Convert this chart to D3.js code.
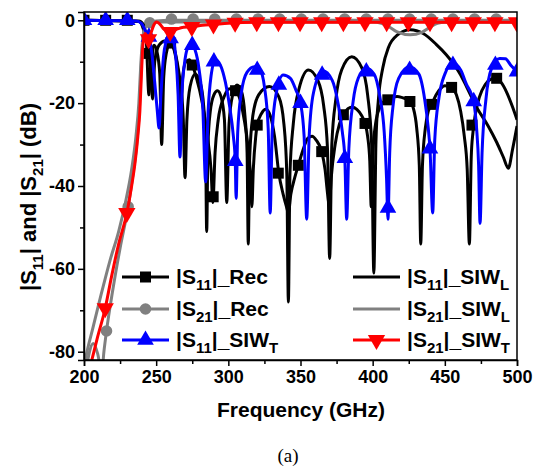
<!DOCTYPE html>
<html>
<head>
<meta charset="utf-8">
<script src="https://cdn.jsdelivr.net/npm/d3@7/dist/d3.min.js"></script>
<style>
  body { margin: 0; background: #fff; }
  svg { font-family: "Liberation Sans", Arial, sans-serif; }
  .axis text { font-size: 18px; font-weight: bold; fill: #000; font-family: "Liberation Sans", Arial, sans-serif; }
  .axis path, .axis line { stroke: #000; stroke-width: 1.5px; }
  .axis-title { font-weight: bold; fill: #000; }
  .legend text { font-size: 21px; font-weight: bold; fill: #000; }
</style>
</head>
<body>
<svg id="chart"></svg>
<script>
// axis ticks
const freqTicks = [200, 250, 300, 350, 400, 450, 500];
const freqMinor = [225, 275, 325, 375, 425, 475];
const dbTicks = [-80, -60, -40, -20, 0];
const dbMinor = [-70, -50, -30, -10];

// |S11|_Rec  (black, squares)
const s11Rec = [[200,0],[238,-0.3],[241,-2],[243,-5],[245,-8],[246.5,-13],[247.5,-19],[249,-10],[252,-6],[256,-5],[260,-5.5],[263,-8],[265.5,-14],[267,-25],[268.3,-14],[270.5,-10],[273,-9.5],[275,-10.8],[278,-14],[282,-20],[285.5,-28],[288,-36],[289.3,-44],[290.8,-32],[293,-24],[297,-18.5],[301,-16.5],[305,-17],[308,-19],[311,-24],[313.5,-30],[315.3,-37],[316.3,-45],[317.3,-36],[319,-28],[320,-25.3],[323,-22.5],[326,-21.5],[329,-23],[332,-28],[335,-37],[338,-42],[340.3,-45],[341.6,-46.5],[343.3,-42],[346,-38],[348.5,-35],[352,-31],[355,-28.5],[358,-28],[361,-29],[364.7,-31.7],[367,-36],[368.8,-42],[370,-45],[371.3,-38],[374,-30],[377,-25],[380,-22.8],[383,-21.3],[386,-21],[389,-21.5],[392,-22.8],[394.7,-24.9],[396.5,-28],[398,-34],[399,-45],[400.2,-32],[402,-25],[405,-21],[408,-19.6],[411,-19],[414,-18.5],[417,-18.4],[420,-18.6],[423,-19],[425.8,-19.6],[428,-21],[430.5,-26],[432.3,-35],[433.3,-54],[434.5,-35],[436.5,-26],[438.5,-22],[440.9,-20.3],[444,-18],[447,-16.5],[450,-15.8],[453,-15.9],[455,-16.2],[458,-18],[461,-22],[463.5,-28],[465.5,-36],[467,-54],[468.3,-33],[469.5,-27],[471,-23],[474,-18.5],[478,-15.5],[482,-14.2],[485,-14],[489,-15],[493,-17.5],[497,-21],[500,-24]];
const s11RecMarks = [[200,0],[215,0],[230,0],[245,-8],[260,-5.5],[275,-10.8],[289.5,-42.6],[305,-17],[320,-25.3],[334.6,-36.9],[348.5,-35],[364.7,-31.7],[379.7,-22.8],[394.7,-24.9],[410.5,-19.2],[425.8,-19.6],[440.9,-20.3],[454.7,-16.2],[468.8,-25.3],[485.9,-14]];

// |S21|_Rec  (grey, circles)
const s21Rec = [[201,-86],[203.5,-80.5],[206.4,-78],[209.5,-80.5],[212.3,-85],[213.8,-80],[215.6,-75],[220,-65],[225,-55],[230.6,-45],[234,-37],[236.8,-29],[238.6,-20],[239.8,-10],[241,-4],[242.5,-1.5],[245.6,-0.6],[250,-0.2],[260,0],[500,0]];
const s21RecMarks = [[215.6,-75],[230.6,-45],[245.6,-0.6],[260.6,0.3],[275.6,0.3],[290.6,0.3],[305.6,0.3],[320.6,0.3],[335.6,0.3],[350.6,0.3],[365.6,0.3],[380.6,0.3],[395.6,0.3],[410.6,0.3],[425.6,0.3],[440.6,0.3],[455.6,0.3],[470.6,0.3],[485.6,0.3]];

// |S11|_SIW_T  (blue, up triangles)
const s11SiwT = [[200,0],[236,-0.2],[240,-0.8],[242.5,-2.5],[245,-4],[247,-8],[249,-15],[250.8,-22],[252,-26],[253.3,-18],[255,-9],[257,-5],[259.3,-3.5],[261.5,-4.4],[263.5,-8.5],[265.2,-18],[266.5,-33],[267.8,-18],[269.6,-10.5],[271.6,-6.8],[274,-5.6],[276.8,-7],[279.8,-12],[282.3,-21],[284.3,-39],[286,-22],[288,-13.5],[291,-9.5],[294.5,-10.8],[298,-15],[301,-21],[303.5,-28],[304.8,-34],[305.4,-43],[306.5,-27],[309,-17.5],[313,-12.5],[318,-11.2],[322,-12],[325,-16],[327.6,-26],[329,-46.5],[330.4,-27],[333,-18],[338,-13.2],[343,-14],[347,-17],[350,-20],[352.5,-28],[354.3,-48],[356,-28],[359,-17.5],[365.5,-12.2],[372,-14.5],[376,-20],[379,-27],[380.7,-33.3],[382,-48],[383.5,-31],[386.5,-19.5],[390,-14],[395.5,-11.6],[401,-13],[405,-18.5],[408,-27],[409.6,-38],[410.6,-48],[411.8,-32],[414,-21],[418,-14],[425.5,-11.2],[432,-13],[436,-19],[438.5,-26],[439.7,-31],[441.6,-46.5],[443,-29],[446,-18.5],[450,-13],[455.5,-10.4],[461,-12],[465,-15.5],[468,-17.5],[470,-19.6],[472,-26],[473.4,-35],[474.4,-49],[475.8,-32],[478.5,-19],[482.5,-11.5],[488,-9.2],[492,-9.3],[496,-11],[500,-12.4]];
const s11SiwTMarks = [[200,0],[215,0],[230,0],[245,-4],[260,-4.4],[275,-6],[290,-10],[304.8,-34],[320,-12],[335,-15.6],[350,-20],[365,-13.2],[380.7,-33.3],[395.6,-12.4],[410.6,-45.3],[425.6,-12],[439.7,-31],[455.6,-10.8],[470,-19.6],[485,-10.8],[500,-12.4]];

// |S11|_SIW_L  (black line)
const s11SiwL = [[200,0],[238,-0.2],[241,-1],[243,-4],[245,-18],[246.5,-9],[248.5,-6],[250.5,-7.5],[252.5,-13],[253.8,-30],[255.2,-14],[257,-8],[259.5,-5.6],[262,-6.5],[264.5,-10],[267,-16],[268.8,-24],[270,-38],[271.3,-24],[273.5,-16],[277,-13],[280.5,-15],[283,-21],[284.2,-29],[285,-51],[285.9,-30],[287.5,-22],[290,-18],[292.5,-17],[295,-18.5],[297.3,-24],[298.9,-44],[300.5,-25],[303,-18],[306,-15.6],[309,-17],[311.5,-23],[313,-32],[313.8,-54],[314.8,-33],[317,-23],[321,-18],[328.5,-16],[335,-18.5],[338.5,-25],[340.5,-37],[341.6,-68],[342.7,-37],[345,-25],[349,-16.5],[355.5,-12],[362,-14.5],[366,-20.5],[368.7,-31],[370.2,-57.5],[371.7,-30],[374.5,-19],[378.5,-12],[385.5,-8.8],[392.5,-11.5],[396.5,-18],[399.3,-30],[400.8,-61],[402.3,-29],[404,-19],[407,-11.5],[411,-6.5],[417,-3.6],[426,-2.3],[435,-3.2],[444,-5.8],[451,-8.3],[456,-10.5],[461,-13.2],[465,-16],[472,-21],[480,-25.5],[486,-29.5],[490.5,-33],[494,-35.7],[497,-31],[500,-25.5]];

// |S21|_SIW_L  (grey line)
const s21SiwL = [[200,-84],[201.5,-81],[206,-74.5],[212,-66],[218,-58],[224,-51],[229,-43.5],[233,-36],[236,-28],[238,-20],[239.3,-11],[240.5,-5],[242,-2],[244,-1.2],[247,-0.8],[252,-0.4],[300,-0.4],[400,-0.4],[406,-0.7],[411,-1.5],[417,-2.8],[426,-3.5],[434,-2.9],[440,-1.6],[445,-0.7],[450,-0.5],[500,-0.5]];

// |S21|_SIW_T  (red, down triangles)
const s21SiwT = [[204,-84],[209,-77],[214.7,-69.5],[219,-62],[224,-54],[229.7,-46.5],[233,-40],[235.5,-34],[237.3,-28],[238.7,-22],[239.8,-13],[240.8,-6],[242.2,-3.2],[243.5,-3.8],[244.7,-4.6],[246.3,-3.2],[248.3,-1.2],[250.3,-0.4],[252.5,-0.9],[255.5,-2.2],[259.7,-2.8],[264,-2.2],[269,-1.7],[274.7,-1.6],[282,-1.2],[289.7,-1],[300,-0.7],[320,-0.5],[500,-0.5]];
const s21SiwTMarks = [[214.7,-69.5],[229.7,-46.5],[244.7,-4.6],[259.7,-2.8],[274.7,-1.6],[289.7,-1],[304.7,-0.6],[319.7,-0.5],[334.7,-0.5],[349.7,-0.5],[364.7,-0.5],[379.7,-0.5],[394.7,-0.5],[409.7,-0.5],[424.7,-0.5],[439.7,-0.5],[454.7,-0.5],[469.7,-0.5],[484.7,-0.5],[499.7,-0.5]];

class SParamChart {
    constructor(_config) {
        this.config = {
            parentElement: _config.parentElement,
            containerWidth: _config.containerWidth || 544,
            containerHeight: _config.containerHeight || 469,
            margin: _config.margin || {top: 12, right: 27, bottom: 109, left: 84}
        };
        this.initVis();
    }

    initVis() {
        let vis = this;
        vis.width = vis.config.containerWidth - vis.config.margin.left - vis.config.margin.right;
        vis.height = vis.config.containerHeight - vis.config.margin.top - vis.config.margin.bottom;

        vis.xScale = d3.scaleLinear().domain([200, 500]).range([0, vis.width]);
        vis.yScale = d3.scaleLinear().domain([-82, 2]).range([vis.height, 0]);

        vis.svg = d3.select(vis.config.parentElement)
            .attr('width', vis.config.containerWidth)
            .attr('height', vis.config.containerHeight);

        vis.chart = vis.svg.append('g')
            .attr('transform', `translate(${vis.config.margin.left},${vis.config.margin.top})`);

        vis.svg.append('defs').append('clipPath').attr('id', 'plot-clip')
            .append('rect').attr('width', vis.width).attr('height', vis.height);

        vis.line = d3.line()
            .x(d => vis.xScale(d[0]))
            .y(d => vis.yScale(d[1]))
            .curve(d3.curveMonotoneX);
    }

    renderVis() {
        let vis = this;

        const series = [
            {data: s11Rec, marks: s11RecMarks, color: '#000', symbol: d3.symbolSquare, size: 121, rot: 0},
            {data: s21Rec, marks: s21RecMarks, color: '#808080', symbol: d3.symbolCircle, size: 105, rot: 0},
            {data: s11SiwL, marks: null, color: '#000'},
            {data: s21SiwL, marks: null, color: '#808080'},
            {data: s11SiwT, marks: s11SiwTMarks, color: '#0000ff', symbol: d3.symbolTriangle, size: 120, rot: 0},
            {data: s21SiwT, marks: s21SiwTMarks, color: '#ff0000', symbol: d3.symbolTriangle, size: 130, rot: 180}
        ];

        const plot = vis.chart.append('g').attr('clip-path', 'url(#plot-clip)');

        series.forEach(s => {
            plot.append('path')
                .datum(s.data)
                .attr('fill', 'none')
                .attr('stroke', s.color)
                .attr('stroke-width', 3)
                .attr('stroke-linejoin', 'round')
                .attr('d', vis.line);
            if (s.marks) {
                plot.selectAll(null)
                    .data(s.marks)
                    .join('path')
                    .attr('d', d3.symbol(s.symbol, s.size))
                    .attr('fill', s.color)
                    .attr('transform', d => `translate(${vis.xScale(d[0])},${vis.yScale(d[1])}) rotate(${s.rot})`);
            }
        });

        // axes with outward ticks, minor ticks unlabeled
        vis.chart.append('g')
            .attr('class', 'axis')
            .attr('transform', `translate(0,${vis.height})`)
            .call(d3.axisBottom(vis.xScale).tickValues(freqTicks).tickSize(6).tickPadding(4).tickFormat(d3.format('d')));
        vis.chart.append('g')
            .attr('class', 'axis')
            .attr('transform', `translate(0,${vis.height})`)
            .call(d3.axisBottom(vis.xScale).tickValues(freqMinor).tickSize(4).tickFormat(''))
            .call(g => g.select('.domain').remove());

        vis.chart.append('g')
            .attr('class', 'axis')
            .call(d3.axisLeft(vis.yScale).tickValues(dbTicks).tickSize(6).tickPadding(3).tickFormat(d => String(d)));
        vis.chart.append('g')
            .attr('class', 'axis')
            .call(d3.axisLeft(vis.yScale).tickValues(dbMinor).tickSize(4).tickFormat(''))
            .call(g => g.select('.domain').remove());

        // frame
        vis.chart.append('rect')
            .attr('width', vis.width)
            .attr('height', vis.height)
            .attr('fill', 'none')
            .attr('stroke', '#000')
            .attr('stroke-width', 1.5);

        // axis titles
        vis.svg.append('text')
            .attr('class', 'axis-title')
            .attr('x', 301)
            .attr('y', 417)
            .attr('text-anchor', 'middle')
            .style('font-size', '21px')
            .text('Frequency (GHz)');

        const yTitle = vis.svg.append('text')
            .attr('class', 'axis-title')
            .attr('transform', 'translate(36,197) rotate(-90)')
            .attr('text-anchor', 'middle')
            .style('font-size', '22px');
        writeParts(yTitle, [{t: '|S'}, {t: '11', sub: true}, {t: '| and |S'}, {t: '21', sub: true}, {t: '| (dB)'}], 22);

        vis.svg.append('text')
            .attr('x', 288)
            .attr('y', 462)
            .attr('text-anchor', 'middle')
            .style('font-family', '"Liberation Serif", "Times New Roman", serif')
            .style('font-size', '19px')
            .text('(a)');

        // legend
        const legendItems = [
            {col: 0, row: 0, color: '#000', symbol: d3.symbolSquare, size: 121, rot: 0, parts: [{t: '|S'}, {t: '11', sub: true}, {t: '|_Rec'}]},
            {col: 0, row: 1, color: '#808080', symbol: d3.symbolCircle, size: 105, rot: 0, parts: [{t: '|S'}, {t: '21', sub: true}, {t: '|_Rec'}]},
            {col: 0, row: 2, color: '#0000ff', symbol: d3.symbolTriangle, size: 120, rot: 0, parts: [{t: '|S'}, {t: '11', sub: true}, {t: '|_SIW'}, {t: 'T', sub: true}]},
            {col: 1, row: 0, color: '#000', symbol: null, parts: [{t: '|S'}, {t: '11', sub: true}, {t: '|_SIW'}, {t: 'L', sub: true}]},
            {col: 1, row: 1, color: '#808080', symbol: null, parts: [{t: '|S'}, {t: '21', sub: true}, {t: '|_SIW'}, {t: 'L', sub: true}]},
            {col: 1, row: 2, color: '#ff0000', symbol: d3.symbolTriangle, size: 130, rot: 180, parts: [{t: '|S'}, {t: '21', sub: true}, {t: '|_SIW'}, {t: 'T', sub: true}]}
        ];
        const colX = [122, 353];
        const rowY = [277, 309, 340];
        const legend = vis.svg.append('g').attr('class', 'legend');
        legendItems.forEach(it => {
            const x0 = colX[it.col], y0 = rowY[it.row];
            legend.append('line')
                .attr('x1', x0).attr('x2', x0 + 47)
                .attr('y1', y0).attr('y2', y0)
                .attr('stroke', it.color).attr('stroke-width', 3);
            if (it.symbol) {
                legend.append('path')
                    .attr('d', d3.symbol(it.symbol, it.size))
                    .attr('fill', it.color)
                    .attr('transform', `translate(${x0 + 23.5},${y0}) rotate(${it.rot})`);
            }
            const t = legend.append('text').attr('x', x0 + 54).attr('y', y0 + 7);
            writeParts(t, it.parts, 21);
        });
    }
}

function writeParts(sel, parts, size) {
    let shift = 0;
    parts.forEach(p => {
        const target = p.sub ? Math.round(size * 0.3) : 0;
        sel.append('tspan')
            .attr('dy', target - shift)
            .style('font-size', p.sub ? Math.round(size * 0.7) + 'px' : null)
            .text(p.t);
        shift = target;
    });
}

const chart = new SParamChart({parentElement: '#chart'});
chart.renderVis();
</script>
</body>
</html>
